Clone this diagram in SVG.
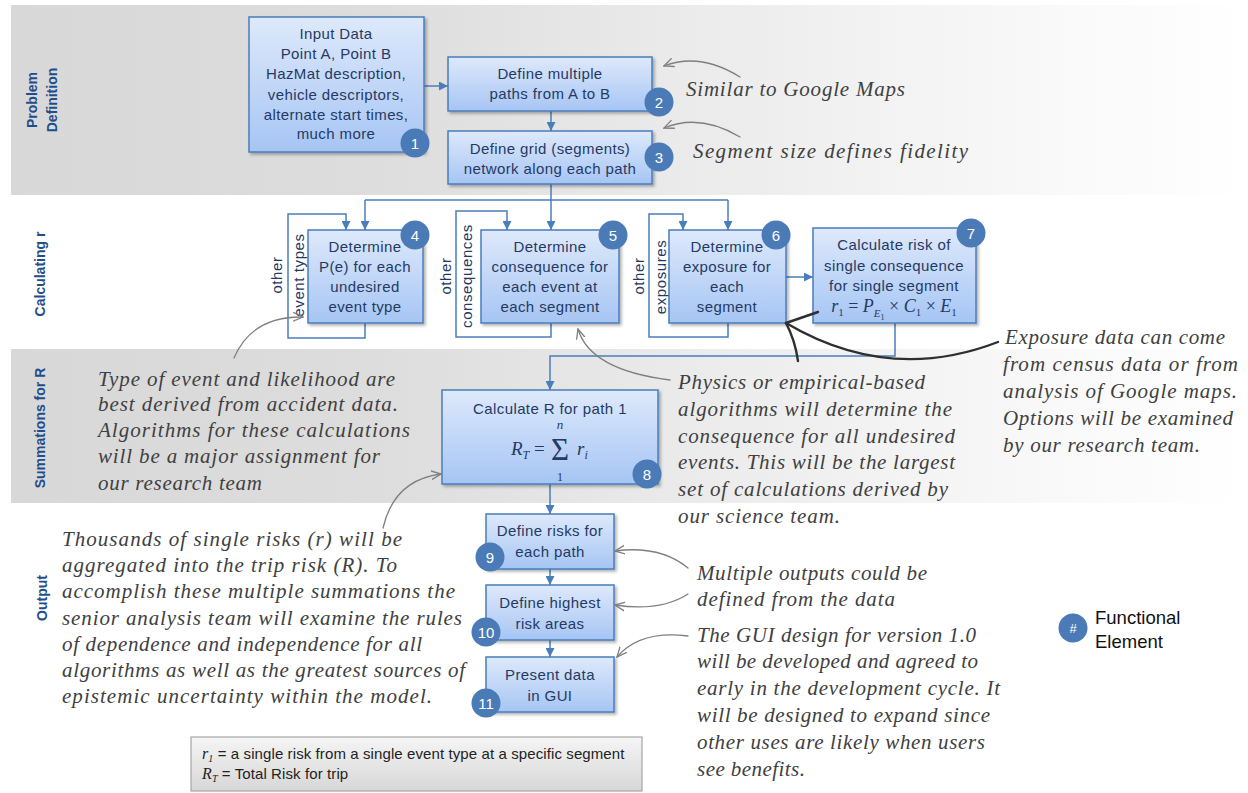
<svg xmlns="http://www.w3.org/2000/svg" width="1248" height="793" viewBox="0 0 1248 793">
  <defs>
    <linearGradient id="bandGrad" x1="0" y1="0" x2="1" y2="0">
      <stop offset="0" stop-color="#d8d8d8"/>
      <stop offset="0.3" stop-color="#dddddd"/>
      <stop offset="0.55" stop-color="#ebebeb"/>
      <stop offset="0.8" stop-color="#f7f7f7"/>
      <stop offset="1" stop-color="#ffffff"/>
    </linearGradient>
    <linearGradient id="boxGrad" x1="0" y1="0" x2="0" y2="1">
      <stop offset="0" stop-color="#dee9fb"/>
      <stop offset="1" stop-color="#a6c5f4"/>
    </linearGradient>
    <linearGradient id="legendGrad" x1="0" y1="0" x2="0" y2="1">
      <stop offset="0" stop-color="#f5f5f5"/>
      <stop offset="1" stop-color="#d7d7d7"/>
    </linearGradient>
    <filter id="shadow" x="-10%" y="-10%" width="125%" height="130%">
      <feDropShadow dx="2" dy="2" stdDeviation="1.5" flood-color="#000" flood-opacity="0.3"/>
    </filter>
    <marker id="arrow" viewBox="0 0 10 10" refX="10" refY="5" markerWidth="9" markerHeight="9" markerUnits="userSpaceOnUse" orient="auto">
      <path d="M0,0 L10,5 L0,10 z" fill="#4a7ebb"/>
    </marker>
    <marker id="openArrow" viewBox="0 0 10 10" refX="9" refY="5" markerWidth="11" markerHeight="11" markerUnits="userSpaceOnUse" orient="auto">
      <path d="M0,1 L9,5 L0,9" fill="none" stroke="#7f7f7f" stroke-width="1.2"/>
    </marker>
    <style>
      .band { fill: url(#bandGrad); }
      .lane { font-family: "Liberation Sans", Arial, sans-serif; font-size: 14px; font-weight: bold; fill: #1f4e8c; text-anchor: middle; }
      .box { fill: url(#boxGrad); stroke: #4a7ebb; stroke-width: 1.5; filter: url(#shadow); }
      .bt { font-family: "Liberation Sans", Arial, sans-serif; font-size: 15px; letter-spacing: 0.4px; fill: #243a63; text-anchor: middle; }
      .side { font-family: "Liberation Sans", Arial, sans-serif; font-size: 15px; fill: #243a63; text-anchor: middle; letter-spacing: 0.6px; }
      .math { font-family: "Liberation Serif", "Times New Roman", serif; fill: #243a63; }
      .badge { fill: #4a7bb7; }
      .bn { font-family: "Liberation Sans", Arial, sans-serif; font-size: 15px; fill: #ffffff; text-anchor: middle; }
      .conn { fill: none; stroke: #4a7ebb; stroke-width: 1.5; }
      .note { font-family: "Liberation Serif", "Times New Roman", serif; font-style: italic; font-size: 21px; fill: #404040; }
      .hand { fill: none; stroke: #7f7f7f; stroke-width: 1.3; stroke-linecap: round; }
      .ink { fill: none; stroke: #2f2f2f; stroke-width: 2.4; stroke-linecap: round; }
      .legend { font-family: "Liberation Sans", Arial, sans-serif; font-size: 15px; letter-spacing: 0.1px; fill: #222222; }
      .key { font-family: "Liberation Sans", Arial, sans-serif; font-size: 18.5px; fill: #111111; }
    </style>
  </defs>

  <rect width="1248" height="793" fill="#ffffff"/>

  <!-- swim-lane backgrounds -->
  <rect class="band" x="11" y="5" width="1237" height="190"/>
  <rect class="band" x="11" y="349" width="1237" height="154"/>

  <!-- lane titles -->
  <g id="lane-titles">
    <text class="lane" transform="translate(37,100) rotate(-90)">Problem</text>
    <text class="lane" transform="translate(57,100) rotate(-90)">Definition</text>
    <text class="lane" transform="translate(45,274) rotate(-90)">Calculating r</text>
    <text class="lane" transform="translate(45,428) rotate(-90)">Summations for R</text>
    <text class="lane" transform="translate(47,598) rotate(-90)">Output</text>
  </g>

  <!-- flow connectors -->
  <g id="connectors">
    <path class="conn" d="M424,86 H448" marker-end="url(#arrow)"/>
    <path class="conn" d="M551,111 V131" marker-end="url(#arrow)"/>
    <path class="conn" d="M551,184 V200 M365,200 H728"/>
    <path class="conn" d="M365,200 V230" marker-end="url(#arrow)"/>
    <path class="conn" d="M551,200 V230" marker-end="url(#arrow)"/>
    <path class="conn" d="M728,200 V230" marker-end="url(#arrow)"/>
    <path class="conn" d="M365,323 V338 H288 V214 H346 V230" marker-end="url(#arrow)"/>
    <path class="conn" d="M551,323 V337 H456 V211 H507 V230" marker-end="url(#arrow)"/>
    <path class="conn" d="M728,323 V337 H649 V214 H683 V230" marker-end="url(#arrow)"/>
    <path class="conn" d="M786,277 H813" marker-end="url(#arrow)"/>
    <path class="conn" d="M895,323 V356 H550 V390" marker-end="url(#arrow)"/>
    <path class="conn" d="M550,484 V514" marker-end="url(#arrow)"/>
    <path class="conn" d="M550,569 V585" marker-end="url(#arrow)"/>
    <path class="conn" d="M550,640 V657" marker-end="url(#arrow)"/>
  </g>

  <!-- loop labels -->
  <g id="loop-labels">
    <text class="side" transform="translate(282,275) rotate(-90)">other</text>
    <text class="side" transform="translate(304,275) rotate(-90)">event types</text>
    <text class="side" transform="translate(451,276) rotate(-90)">other</text>
    <text class="side" transform="translate(472,276) rotate(-90)">consequences</text>
    <text class="side" transform="translate(644,276) rotate(-90)">other</text>
    <text class="side" transform="translate(666,277) rotate(-90)">exposures</text>
  </g>

  <g id="node-1">
    <rect class="box" x="249" y="17" width="175" height="135"/>
    <text class="bt" x="336" y="39">Input Data</text>
    <text class="bt" x="336" y="59">Point A, Point B</text>
    <text class="bt" x="336" y="79">HazMat description,</text>
    <text class="bt" x="336" y="100">vehicle descriptors,</text>
    <text class="bt" x="336" y="120">alternate start times,</text>
    <text class="bt" x="336" y="139">much more</text>
    <circle class="badge" cx="415" cy="143" r="14.5"/>
    <text class="bn" x="415" y="148.5">1</text>
  </g>

  <g id="node-2">
    <rect class="box" x="448" y="57" width="204" height="54"/>
    <text class="bt" x="550" y="79">Define multiple</text>
    <text class="bt" x="550" y="99">paths from A to B</text>
    <circle class="badge" cx="659" cy="102" r="14.5"/>
    <text class="bn" x="659" y="107.5">2</text>
  </g>

  <g id="node-3">
    <rect class="box" x="448" y="131" width="204" height="53"/>
    <text class="bt" x="550" y="154">Define grid (segments)</text>
    <text class="bt" x="550" y="174">network along each path</text>
    <circle class="badge" cx="659" cy="157" r="14.5"/>
    <text class="bn" x="659" y="162.5">3</text>
  </g>

  <g id="node-4">
    <rect class="box" x="308" y="230" width="115" height="93"/>
    <text class="bt" x="365" y="252">Determine</text>
    <text class="bt" x="365" y="272">P(e) for each</text>
    <text class="bt" x="365" y="292">undesired</text>
    <text class="bt" x="365" y="312">event type</text>
    <circle class="badge" cx="415" cy="235" r="14.5"/>
    <text class="bn" x="415" y="240.5">4</text>
  </g>

  <g id="node-5">
    <rect class="box" x="481" y="230" width="138" height="93"/>
    <text class="bt" x="550" y="252">Determine</text>
    <text class="bt" x="550" y="272">consequence for</text>
    <text class="bt" x="550" y="292">each event at</text>
    <text class="bt" x="550" y="312">each segment</text>
    <circle class="badge" cx="613" cy="235" r="14.5"/>
    <text class="bn" x="613" y="240.5">5</text>
  </g>

  <g id="node-6">
    <rect class="box" x="669" y="230" width="117" height="93"/>
    <text class="bt" x="727" y="252">Determine</text>
    <text class="bt" x="727" y="272">exposure for</text>
    <text class="bt" x="727" y="292">each</text>
    <text class="bt" x="727" y="312">segment</text>
    <circle class="badge" cx="776" cy="235" r="14.5"/>
    <text class="bn" x="776" y="240.5">6</text>
  </g>

  <g id="node-7">
    <rect class="box" x="813" y="228" width="163" height="95"/>
    <text class="bt" x="894" y="250">Calculate risk of</text>
    <text class="bt" x="894" y="271">single consequence</text>
    <text class="bt" x="894" y="291">for single segment</text>
    <text class="math" x="894" y="312" text-anchor="middle" style="font-size:18px"><tspan font-style="italic">r</tspan><tspan font-size="11" dy="4">1</tspan><tspan dy="-4"> = </tspan><tspan font-style="italic">P</tspan><tspan font-size="11" font-style="italic" dy="5">E</tspan><tspan font-size="8" dy="3">1</tspan><tspan dy="-8"> × </tspan><tspan font-style="italic">C</tspan><tspan font-size="11" dy="4">1</tspan><tspan dy="-4"> × </tspan><tspan font-style="italic">E</tspan><tspan font-size="11" dy="4">1</tspan></text>
    <circle class="badge" cx="971" cy="233" r="14.5"/>
    <text class="bn" x="971" y="238.5">7</text>
  </g>

  <g id="node-8">
    <rect class="box" x="442" y="390" width="216" height="94"/>
    <text class="bt" x="550" y="414">Calculate R for path 1</text>
    <text class="math" x="511" y="455" style="font-size:19px"><tspan font-style="italic">R</tspan><tspan font-size="12" font-style="italic" dy="4">T</tspan><tspan dy="-4"> = </tspan></text>
    <text class="math" x="560" y="460" text-anchor="middle" style="font-size:31px">Σ</text>
    <text class="math" x="560" y="429" text-anchor="middle" style="font-size:13px;font-style:italic">n</text>
    <text class="math" x="560" y="481" text-anchor="middle" style="font-size:12px">1</text>
    <text class="math" x="577" y="455" style="font-size:19px"><tspan font-style="italic">r</tspan><tspan font-size="12" font-style="italic" dy="4">i</tspan></text>
    <circle class="badge" cx="647" cy="474" r="14.5"/>
    <text class="bn" x="647" y="479.5">8</text>
  </g>

  <g id="node-9">
    <rect class="box" x="486" y="514" width="128" height="55"/>
    <text class="bt" x="550" y="536">Define risks for</text>
    <text class="bt" x="550" y="557">each path</text>
    <circle class="badge" cx="490" cy="557" r="14.5"/>
    <text class="bn" x="490" y="562.5">9</text>
  </g>

  <g id="node-10">
    <rect class="box" x="486" y="585" width="128" height="55"/>
    <text class="bt" x="550" y="608">Define highest</text>
    <text class="bt" x="550" y="629">risk areas</text>
    <circle class="badge" cx="486" cy="632" r="14.5"/>
    <text class="bn" x="486" y="637.5">10</text>
  </g>

  <g id="node-11">
    <rect class="box" x="486" y="657" width="128" height="55"/>
    <text class="bt" x="550" y="680">Present data</text>
    <text class="bt" x="550" y="701">in GUI</text>
    <circle class="badge" cx="486" cy="703" r="14.5"/>
    <text class="bn" x="486" y="708.5">11</text>
  </g>

  <!-- hand-drawn callout arrows -->
  <g id="callout-arrows">
    <path class="hand" d="M740,77 Q700,52 664,66" marker-end="url(#openArrow)"/>
    <path class="hand" d="M740,137 Q700,113 664,128" marker-end="url(#openArrow)"/>
    <path class="hand" d="M234,358 Q252,316 303,317" marker-end="url(#openArrow)"/>
    <path class="hand" d="M670,380 Q590,370 578,329" marker-end="url(#openArrow)"/>
    <path class="hand" d="M383,528 Q394,480 441,474" marker-end="url(#openArrow)"/>
    <path class="hand" d="M688,568 Q660,545 615,551" marker-end="url(#openArrow)"/>
    <path class="hand" d="M688,594 Q660,612 615,605" marker-end="url(#openArrow)"/>
    <path class="hand" d="M688,636 Q640,630 617,657" marker-end="url(#openArrow)"/>
    <path class="ink" d="M998,342 Q889,384 786,323"/>
    <path class="ink" d="M786,323 L818,312"/>
    <path class="ink" d="M786,323 Q795,340 798,361"/>
  </g>

  <!-- annotation notes -->
  <g id="note-maps">
    <text class="note" x="686" y="96" textLength="219">Similar to Google Maps</text>
  </g>
  <g id="note-segment">
    <text class="note" x="693" y="158" textLength="275">Segment size defines fidelity</text>
  </g>
  <g id="note-exposure">
    <text class="note" x="1005" y="344" textLength="220">Exposure data can come</text>
    <text class="note" x="1003" y="371" textLength="235">from census data or from</text>
    <text class="note" x="1003" y="398" textLength="234">analysis of Google maps.</text>
    <text class="note" x="1003" y="425" textLength="230">Options will be examined</text>
    <text class="note" x="1003" y="452" textLength="197">by our research team.</text>
  </g>
  <g id="note-event">
    <text class="note" x="98" y="386" textLength="297">Type of event and likelihood are</text>
    <text class="note" x="98" y="411" textLength="300">best derived from accident data.</text>
    <text class="note" x="98" y="437" textLength="312">Algorithms for these calculations</text>
    <text class="note" x="98" y="463" textLength="282">will be a major assignment for</text>
    <text class="note" x="98" y="490" textLength="164">our research team</text>
  </g>
  <g id="note-physics">
    <text class="note" x="678" y="389" textLength="247">Physics or empirical-based</text>
    <text class="note" x="678" y="416" textLength="274">algorithms will determine the</text>
    <text class="note" x="678" y="443" textLength="277">consequence for all undesired</text>
    <text class="note" x="678" y="469" textLength="277">events. This will be the largest</text>
    <text class="note" x="678" y="496" textLength="270">set of calculations derived by</text>
    <text class="note" x="678" y="523" textLength="162">our science team.</text>
  </g>
  <g id="note-thousands">
    <text class="note" x="62" y="546" textLength="340">Thousands of single risks (r) will be</text>
    <text class="note" x="62" y="572" textLength="335">aggregated into the trip risk (R). To</text>
    <text class="note" x="62" y="598" textLength="393">accomplish these multiple summations the</text>
    <text class="note" x="62" y="625" textLength="400">senior analysis team will examine the rules</text>
    <text class="note" x="62" y="651" textLength="360">of dependence and independence for all</text>
    <text class="note" x="62" y="677" textLength="403">algorithms as well as the greatest sources of</text>
    <text class="note" x="62" y="703" textLength="370">epistemic uncertainty within the model.</text>
  </g>
  <g id="note-outputs">
    <text class="note" x="697" y="580" textLength="230">Multiple outputs could be</text>
    <text class="note" x="697" y="606" textLength="198">defined from the data</text>
  </g>
  <g id="note-gui">
    <text class="note" x="697" y="642" textLength="279">The GUI design for version 1.0</text>
    <text class="note" x="697" y="668" textLength="281">will be developed and agreed to</text>
    <text class="note" x="697" y="695" textLength="303">early in the development cycle. It</text>
    <text class="note" x="697" y="722" textLength="293">will be designed to expand since</text>
    <text class="note" x="697" y="749" textLength="288">other uses are likely when users</text>
    <text class="note" x="697" y="776" textLength="108">see benefits.</text>
  </g>

  <!-- symbol definitions box -->
  <g id="definitions">
    <rect x="191" y="737" width="451" height="54" fill="url(#legendGrad)" stroke="#a6a6a6" stroke-width="1.2"/>
    <text class="legend" x="202" y="759"><tspan font-family="Liberation Serif, serif" font-style="italic" font-size="16">r</tspan><tspan font-family="Liberation Serif, serif" font-style="italic" font-size="10" dy="3">1</tspan><tspan dy="-3"> = a single risk from a single event type at a specific segment</tspan></text>
    <text class="legend" x="202" y="779"><tspan font-family="Liberation Serif, serif" font-style="italic" font-size="16">R</tspan><tspan font-family="Liberation Serif, serif" font-style="italic" font-size="10" dy="3">T</tspan><tspan dy="-3"> = Total Risk for trip</tspan></text>
  </g>

  <!-- key -->
  <g id="key">
    <circle class="badge" cx="1073" cy="628" r="14.5"/>
    <text class="bn" x="1073" y="633" style="font-size:13px">#</text>
    <text class="key" x="1095" y="624">Functional</text>
    <text class="key" x="1095" y="648">Element</text>
  </g>
</svg>
